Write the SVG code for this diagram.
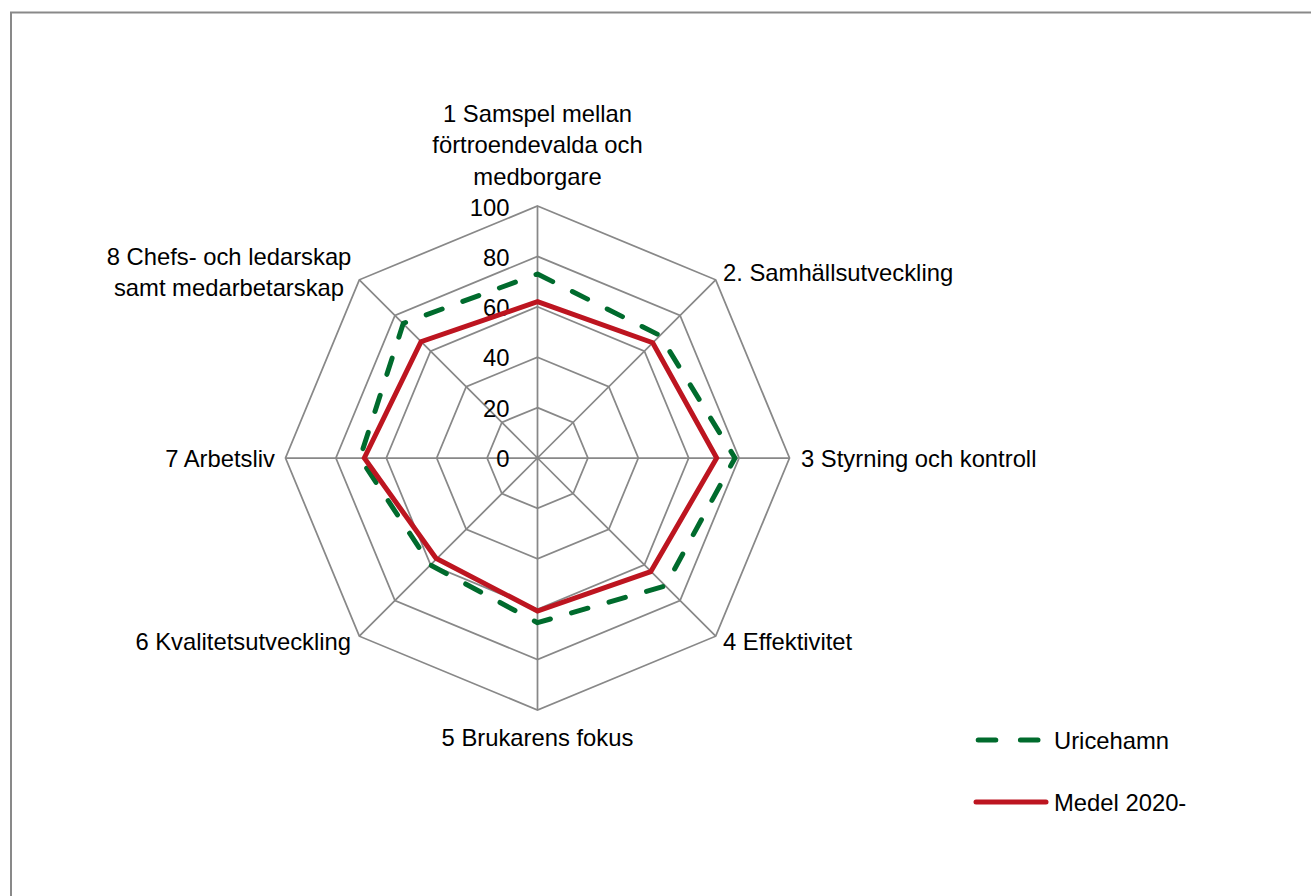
<svg xmlns="http://www.w3.org/2000/svg" width="1311" height="896" viewBox="0 0 1311 896">
<style>
.bg{fill:#ffffff}
.frame{fill:none;stroke:#898989;stroke-width:2}
.grid{fill:none;stroke:#888888;stroke-width:1.75}
.lbl{font-family:"Liberation Sans",Arial,sans-serif;font-size:23.8px;fill:#000000}
.s1{fill:none;stroke:#006B2D;stroke-width:5;stroke-dasharray:17 22;stroke-linecap:round;stroke-linejoin:round}
.s2{fill:none;stroke:#BD1520;stroke-width:5;stroke-linejoin:miter}
</style>
<rect class="bg" x="0" y="0" width="1311" height="896"/>
<rect class="frame" x="11" y="12.5" width="1320" height="900"/>
<g id="grid">
<polygon class="grid" points="537.5,407.6 573.14,422.36 587.9,458 573.14,493.64 537.5,508.4 501.86,493.64 487.1,458 501.86,422.36"/>
<polygon class="grid" points="537.5,357.2 608.78,386.72 638.3,458 608.78,529.28 537.5,558.8 466.22,529.28 436.7,458 466.22,386.72"/>
<polygon class="grid" points="537.5,306.8 644.41,351.09 688.7,458 644.41,564.91 537.5,609.2 430.59,564.91 386.3,458 430.59,351.09"/>
<polygon class="grid" points="537.5,256.4 680.05,315.45 739.1,458 680.05,600.55 537.5,659.6 394.95,600.55 335.9,458 394.95,315.45"/>
<polygon class="grid" points="537.5,206 715.69,279.81 789.5,458 715.69,636.19 537.5,710 359.31,636.19 285.5,458 359.31,279.81"/>
<path class="grid" d="M537.5,458V206M537.5,458L715.69,279.81M537.5,458H789.5M537.5,458L715.69,636.19M537.5,458V710M537.5,458L359.31,636.19M537.5,458H285.5M537.5,458L359.31,279.81"/>
</g>
<g id="axis-values" class="lbl" text-anchor="end">
<text x="509.5" y="215.5">100</text>
<text x="509.5" y="265.8">80</text>
<text x="509.5" y="316">60</text>
<text x="509.5" y="366.4">40</text>
<text x="509.5" y="416.7">20</text>
<text x="509.5" y="467">0</text>
</g>
<g id="series">
<polygon id="uricehamn" class="s1" points="537.5,274 660,335.5 735,458 665.4,585.9 537.5,622.7 430.5,565 360,458 403.3,323.3"/>
<polygon id="medel" class="s2" points="537.5,301.7 652.7,342.7 716.7,458 650.7,571.7 537.5,611 436,558.3 364.3,458 421,341.7"/>
</g>
<g id="label-1" class="lbl" text-anchor="middle">
<text x="537.5" y="122">1 Samspel mellan</text>
<text x="537.5" y="153.3">förtroendevalda och</text>
<text x="537.5" y="184.5">medborgare</text>
</g>
<g id="label-2" class="lbl"><text x="723" y="281">2. Samhällsutveckling</text></g>
<g id="label-3" class="lbl"><text x="801" y="467">3 Styrning och kontroll</text></g>
<g id="label-4" class="lbl"><text x="723" y="650">4 Effektivitet</text></g>
<g id="label-5" class="lbl" text-anchor="middle"><text x="537.5" y="746">5 Brukarens fokus</text></g>
<g id="label-6" class="lbl" text-anchor="end"><text x="351" y="650">6 Kvalitetsutveckling</text></g>
<g id="label-7" class="lbl" text-anchor="end"><text x="275" y="467">7 Arbetsliv</text></g>
<g id="label-8" class="lbl" text-anchor="middle">
<text x="229" y="265">8 Chefs- och ledarskap</text>
<text x="229" y="296">samt medarbetarskap</text>
</g>
<g id="legend">
<line class="s1" x1="978.2" y1="740" x2="1044" y2="740" style="stroke-dasharray:17.6 24.6"/>
<text class="lbl" x="1054" y="748.5">Uricehamn</text>
<line class="s2" x1="976" y1="802" x2="1046" y2="802" style="stroke-linecap:round"/>
<text class="lbl" x="1054" y="810.5">Medel 2020-</text>
</g>
</svg>
